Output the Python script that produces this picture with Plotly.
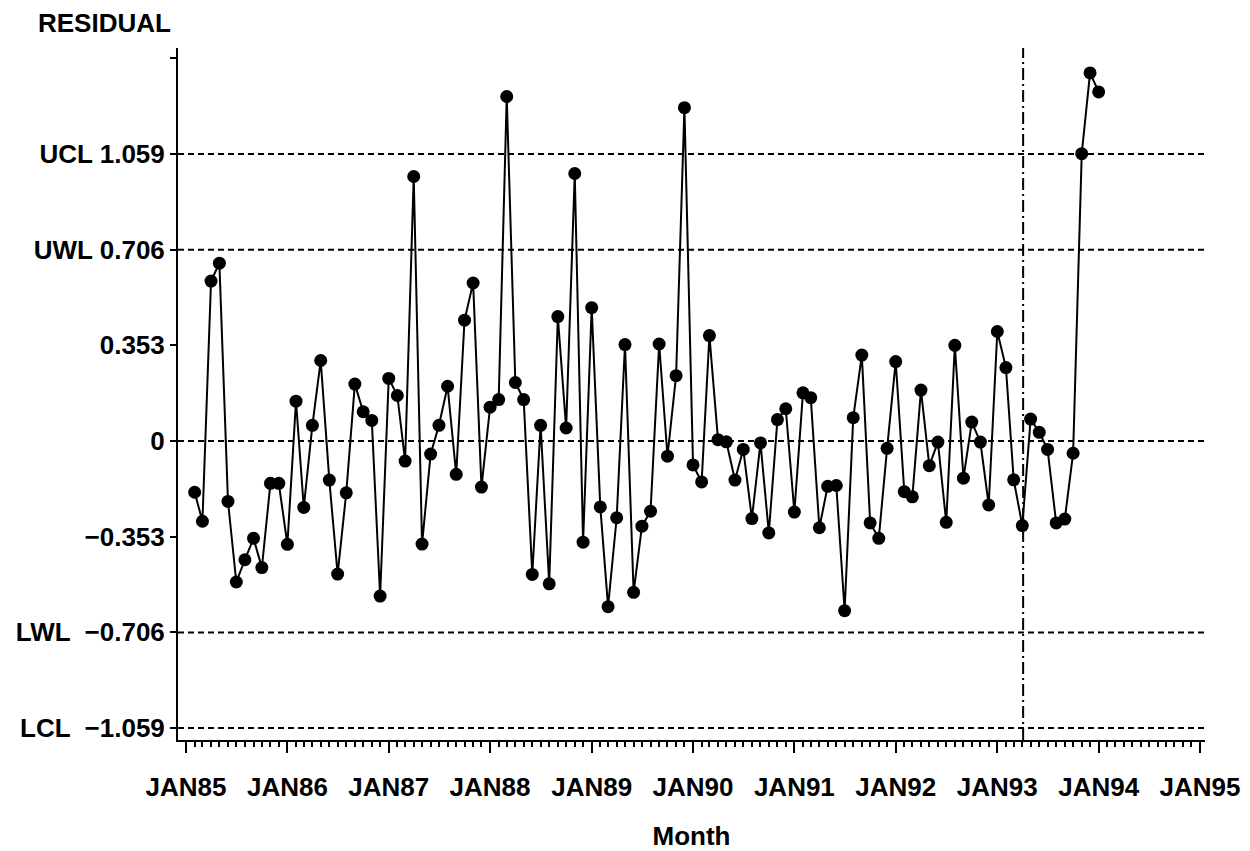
import pandas as pd
import plotly.graph_objects as go

# ---- data ----
start_month = "1985-02-01"
residuals = [
    -0.189, -0.296, 0.590, 0.656, -0.223, -0.520, -0.438, -0.359, -0.467, -0.156, -0.156,
    -0.381, 0.147, -0.245, 0.058, 0.297, -0.144, -0.491, -0.191, 0.210, 0.108, 0.076, -0.572,
    0.231, 0.168, -0.074, 0.976, -0.380, -0.048, 0.058, 0.202, -0.123, 0.446, 0.583, -0.170,
    0.125, 0.153, 1.271, 0.216, 0.153, -0.492, 0.058, -0.527, 0.459, 0.048, 0.987, -0.373,
    0.492, -0.243, -0.611, -0.283, 0.356, -0.558, -0.314, -0.259, 0.358, -0.056, 0.241, 1.230,
    -0.088, -0.151, 0.389, 0.005, -0.003, -0.144, -0.031, -0.286, -0.007, -0.339, 0.079, 0.119,
    -0.262, 0.178, 0.160, -0.320, -0.167, -0.164, -0.626, 0.086, 0.317, -0.302, -0.359, -0.027,
    0.293, -0.187, -0.206, 0.188, -0.091, -0.004, -0.300, 0.353, -0.137, 0.070, -0.004,
    -0.236, 0.404, 0.271, -0.143, -0.312, 0.081, 0.032, -0.031, -0.302, -0.288, -0.045,
    1.060, 1.358, 1.288,
]
months = pd.date_range(start_month, periods=len(residuals), freq="MS")

limit_values = [1.059, 0.706, 0.0, -0.706, -1.059]
ytick_values = [1.412, 1.059, 0.706, 0.353, 0.0, -0.353, -0.706, -1.059]
ytick_labels = ["", "UCL 1.059", "UWL 0.706", "0.353", "0", "\u22120.353",
                "LWL  \u22120.706", "LCL  \u22121.059"]

year_ticks = [f"{y}-01-01" for y in range(1985, 1996)]
year_labels = ["JAN85", "JAN86", "JAN87", "JAN88", "JAN89", "JAN90",
               "JAN91", "JAN92", "JAN93", "JAN94", "JAN95"]

forecast_start = "1993-04-04"

FONT = "Liberation Sans, Arial, sans-serif"
FS = 26

fig = go.Figure()

for v in limit_values:
    fig.add_hline(y=v, line=dict(color="black", width=2, dash="6px,4px"), layer="below")

fig.add_vline(x=pd.Timestamp(forecast_start).timestamp() * 1000,
              line=dict(color="black", width=2, dash="12px,4px,2px,4px"), layer="below")

fig.add_trace(go.Scatter(
    x=months, y=residuals, mode="lines+markers",
    line=dict(color="black", width=2),
    marker=dict(color="black", size=13),
    showlegend=False,
))

# page body has an 8px default margin, so the figure is sized to fit inside it
fig.update_layout(
    width=1242, height=843,
    margin=dict(l=170, r=45, t=40, b=111),
    paper_bgcolor="white", plot_bgcolor="white",
    font=dict(family=FONT, size=FS, color="black"),
    annotations=[dict(
        text="<b>RESIDUAL</b>", xref="paper", yref="paper",
        x=-0.138, y=1.0, xanchor="left", yanchor="bottom", yshift=8,
        showarrow=False, font=dict(family=FONT, size=FS, color="black"),
    )],
)

fig.update_xaxes(
    range=["1984-12-03", "1995-01-19"],
    tickmode="array", tickvals=year_ticks,
    ticktext=[f"<b>{t}</b>" for t in year_labels],
    tickangle=0, automargin=False,
    ticks="outside", ticklen=11, tickwidth=2, tickcolor="black",
    minor=dict(tickmode="linear", tick0="1985-01-01", dtick="M1",
               ticks="outside", ticklen=5, tickwidth=1.5, tickcolor="black", showgrid=False),
    showline=True, linecolor="black", linewidth=2,
    showgrid=False, zeroline=False,
    ticklabelstandoff=12,
    title=dict(text="<b>Month</b>", standoff=28, font=dict(family=FONT, size=FS)),
)

fig.update_yaxes(
    range=[-1.103, 1.450],
    tickmode="array", tickvals=ytick_values,
    ticktext=[f"<b>{t}</b>" for t in ytick_labels],
    automargin=False,
    ticks="outside", ticklen=6, tickwidth=2, tickcolor="black",
    showline=True, linecolor="black", linewidth=2,
    showgrid=False, zeroline=False,
)

fig.write_html("out.html")
